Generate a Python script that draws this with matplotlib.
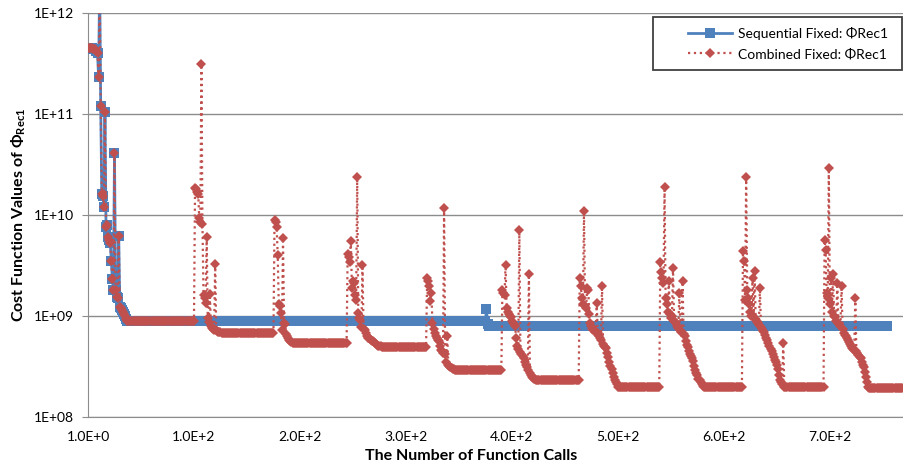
import matplotlib
matplotlib.use("Agg")
import matplotlib.pyplot as plt
from matplotlib.patches import Rectangle
from matplotlib.ticker import FixedLocator, NullLocator

plt.rcParams['font.family'] = ['Lato', 'DejaVu Sans']
plt.rcParams['mathtext.fontset'] = 'custom'
plt.rcParams['mathtext.rm'] = 'Lato:bold'
plt.rcParams['mathtext.it'] = 'Lato:bold'
plt.rcParams['mathtext.bf'] = 'Lato:bold'

# start of both runs (shared by both series)
start = [4.5e11, 4.5e11, 4.5e11, 4.5e11, 4.5e11, 4.4e11, 4.4e11, 4.4e11, 4.2e11, 4.0e11,
         2.3e11, 2.0e12, 1.2e11, 1.6e10, 1.55e10, 1.2e10, 1.05e11, 7.6e9, 8.0e9, 6.1e9,
         5.6e9, 5.3e9, 3.5e9, 2.3e9, 1.8e9, 4.1e10, 1.8e9, 1.55e9, 1.5e9, 6.2e9,
         1.23e9, 1.2e9, 1.15e9, 1.1e9, 1.05e9, 1.0e9, 9.3e8, 9.0e8]

# combined fixed: restarts (bursts) followed by flat plateaus
burst1 = [1.86e10, 1.8e10, 1.7e10, 1.6e10, 9.3e9, 8.5e9, 3.1e11, 8.1e9, 1.6e9, 1.5e9,
          1.35e9, 6.0e9, 9.5e8, 8.7e8, 1.65e9, 8.0e8, 7.6e8, 7.4e8, 7.3e8, 3.3e9,
          7.2e8, 7.1e8, 7.0e8, 6.95e8, 6.9e8, 6.85e8]
burst2 = [8.9e9, 8.5e9, 7.6e9, 4.0e9, 1.3e9, 1.26e9, 1.07e9, 7.3e8, 5.9e9, 8.5e8,
          8.4e8, 6.6e8, 6.3e8, 6.0e8, 5.8e8, 5.6e8, 5.5e8, 5.45e8]
burst3 = [4.1e9, 3.8e9, 3.4e9, 5.5e9, 1.9e9, 2.2e9, 2.1e9, 1.6e9, 1.45e9, 2.4e10,
          1.07e9, 9.5e8, 9.1e8, 7.8e8, 3.2e9, 7.5e8, 7.3e8, 6.8e8, 6.3e8, 6.1e8,
          6.0e8, 5.9e8, 5.8e8, 5.7e8, 5.6e8, 5.5e8, 5.4e8, 5.3e8, 5.2e8, 5.1e8,
          5.05e8, 5.0e8, 4.95e8, 4.92e8]
burst4 = [2.4e9, 2.2e9, 2.0e9, 1.4e9, 1.7e9, 8.5e8, 7.5e8, 6.8e8, 6.4e8, 6.1e8,
          5.8e8, 5.6e8, 5.0e8, 4.6e8, 4.5e8, 4.3e8, 1.17e10, 4.2e8, 3.5e8, 6.3e8,
          3.3e8, 3.2e8, 3.1e8, 3.05e8, 3.0e8, 2.97e8, 2.95e8, 2.93e8, 2.92e8, 2.91e8]
burst5 = [1.8e9, 1.7e9, 1.6e9, 3.2e9, 1.2e9, 1.1e9, 1.05e9, 1.0e9, 9.8e8, 9.0e8,
          8.5e8, 8.3e8, 8.0e8, 6.0e8, 5.0e8, 4.7e8, 7.1e9, 4.4e8, 4.2e8, 4.0e8,
          3.8e8, 3.5e8, 3.3e8, 3.1e8, 2.9e8, 2.6e9, 2.7e8, 2.6e8, 2.5e8, 2.45e8,
          2.4e8, 2.38e8]
burst6 = [2.4e9, 2.0e9, 1.5e9, 1.3e9, 1.1e10, 1.25e9, 1.2e9, 1.9e9, 1.8e9, 1.05e9,
          8.5e8, 8.0e8, 7.5e8, 7.2e8, 7.0e8, 6.9e8, 1.35e9, 6.8e8, 6.4e8, 6.1e8,
          5.8e8, 2.0e9, 5.3e8, 5.1e8, 4.9e8, 4.8e8, 4.3e8, 3.9e8, 3.5e8, 3.2e8,
          3.0e8, 2.7e8, 2.5e8, 2.3e8, 2.2e8, 2.1e8, 2.0e8]
burst7 = [3.4e9, 2.7e9, 2.4e9, 2.1e9, 1.9e10, 1.5e9, 1.3e9, 1.1e9, 2.2e9, 1.05e9,
          9.6e8, 1.0e9, 3.0e9, 9.0e8, 8.8e8, 8.5e8, 8.0e8, 7.6e8, 1.7e9, 7.3e8,
          7.0e8, 2.2e9, 6.6e8, 6.3e8, 5.6e8, 5.2e8, 4.9e8, 4.5e8, 4.2e8, 4.0e8,
          3.8e8, 3.6e8, 3.2e8, 2.9e8, 2.7e8, 2.6e8, 2.4e8, 2.3e8, 2.2e8, 2.1e8,
          2.05e8, 2.0e8]
burst8 = [4.4e9, 3.5e9, 1.45e9, 2.4e10, 1.8e9, 1.5e9, 1.3e9, 1.1e9, 1.0e9, 2.4e9,
          9.8e8, 2.8e9, 9.1e8, 8.8e8, 8.5e8, 8.2e8, 1.9e9, 7.8e8, 7.4e8, 7.1e8,
          6.9e8, 6.5e8, 6.1e8, 5.8e8, 5.4e8, 5.0e8, 4.7e8, 4.5e8, 4.2e8, 3.9e8,
          3.7e8, 3.5e8, 3.3e8, 3.0e8, 2.6e8, 2.3e8, 2.2e8, 2.1e8, 5.4e8, 2.0e8]
burst9 = [5.6e9, 4.5e9, 1.7e9, 1.5e9, 2.9e10, 1.3e9, 2.4e9, 1.1e9, 2.6e9, 1.0e9,
          9.8e8, 9.0e8, 2.1e9, 8.6e8, 8.3e8, 8.0e8, 2.0e9, 7.5e8, 6.8e8, 6.5e8,
          6.3e8, 6.1e8, 5.8e8, 5.5e8, 5.3e8, 5.0e8, 4.8e8, 4.7e8, 4.6e8, 1.5e9,
          4.5e8, 4.3e8, 4.1e8, 3.9e8, 3.8e8, 3.5e8, 3.3e8, 3.1e8, 2.8e8, 2.5e8,
          2.2e8, 2.0e8]
bursts = [burst1, burst2, burst3, burst4, burst5, burst6, burst7, burst8, burst9]

# plateau level and length (number of calls) after start and after each burst
plateau_level = [9.0e8, 6.8e8, 5.4e8, 4.9e8, 2.9e8, 2.32e8, 1.97e8, 1.97e8, 1.97e8, 1.95e8]
plateau_len = [63, 49, 51, 41, 41, 41, 39, 36, 37, 32]

# sequential fixed: levels and run lengths after the start
seq_level = [9.0e8, 1.17e9, 8.4e8, 8.0e8]
seq_len = [338, 1, 1, 377]

tick_pos = [1, 101, 201, 301, 401, 501, 601, 701]
tick_lab = ['1.0E+0', '1.0E+2', '2.0E+2', '3.0E+2', '4.0E+2', '5.0E+2', '6.0E+2', '7.0E+2']
y_ticks = [1e8, 1e9, 1e10, 1e11, 1e12]
y_lab = ['1E+08', '1E+09', '1E+10', '1E+11', '1E+12']

combined = list(start) + [plateau_level[0]] * plateau_len[0]
for b, lev, n in zip(bursts, plateau_level[1:], plateau_len[1:]):
    combined += b + [lev] * n

sequential = list(start)
for lev, n in zip(seq_level, seq_len):
    sequential += [lev] * n

x_comb = range(1, len(combined) + 1)
x_seq = range(1, len(sequential) + 1)

fig = plt.figure(figsize=(9.04, 4.68), dpi=100)
ax = fig.add_axes([88 / 904, 1 - 417 / 468, 815 / 904, 404 / 468])

ax.plot(x_seq, sequential, color='#4F81BD', lw=2, marker='s', ms=6.5, mew=0,
        label='Sequential Fixed: ΦRec1', zorder=3)
ax.plot(x_comb, combined, color='#C0504D', lw=1.6, ls=':', marker='D', ms=5, mew=0,
        label='Combined Fixed: ΦRec1', zorder=4)

ax.set_yscale('log')
ax.set_ylim(1e8, 1e12)
ax.set_xlim(1, 770)
ax.yaxis.set_major_locator(FixedLocator(y_ticks))
ax.yaxis.set_minor_locator(NullLocator())
ax.set_yticklabels(y_lab)
ax.set_xticks(tick_pos)
ax.set_xticklabels(tick_lab)
ax.grid(axis='y', color='#8c8c8c', lw=1)
ax.set_axisbelow(True)
for s in ['top', 'right']:
    ax.spines[s].set_visible(False)
for s in ['left', 'bottom']:
    ax.spines[s].set_color('#8c8c8c')
ax.tick_params(axis='y', length=4, color='#8c8c8c', pad=6, labelsize=10)
ax.tick_params(axis='x', length=0, pad=10, labelsize=10)

fig.text(471 / 904, 1 - 456 / 468, 'The Number of Function Calls', ha='center', va='center',
         fontsize=11.5, fontweight='bold')
fig.text(19 / 904, 1 - 215 / 468, 'Cost Function Values of Φ$_{Rec1}$', ha='center', va='center',
         rotation=90, fontsize=11.5, fontweight='bold')

# legend box like the Excel one (wide padding on the left)
box = Rectangle((653 / 904, 1 - 70 / 468), 249 / 904, 53 / 468, transform=fig.transFigure,
                facecolor='white', edgecolor='#404040', lw=1.3, clip_on=False, zorder=10)
ax.add_patch(box)
leg = ax.legend(loc='center left', bbox_to_anchor=(688 / 904, 1 - 43.5 / 468),
                bbox_transform=fig.transFigure, frameon=False, fontsize=10, borderpad=0,
                handlelength=3.2, labelspacing=0.6, borderaxespad=0, handletextpad=0.4)
leg.set_zorder(11)

fig.savefig('out.png', dpi=100)
